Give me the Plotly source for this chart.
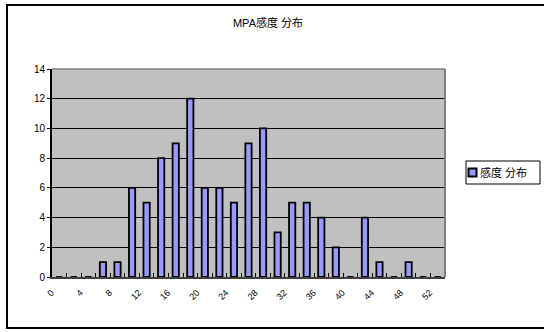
import plotly.graph_objects as go

# Sensitivity bins (step 2) and the count in each bin
categories = [str(v) for v in range(0, 54, 2)]
counts = [0, 0, 0, 1, 1, 6, 5, 8, 9, 12, 6, 6, 5, 9, 10, 3, 5, 5, 4, 2, 0, 4, 1, 0, 1, 0, 0]
tick_labels = [c if i % 2 == 0 else "" for i, c in enumerate(categories)]
series_name = "感度 分布"
chart_title = "MPA感度 分布"

W, H = 544, 332
L, R, T, B = 52, 445, 69, 277  # plot area in pixels
pw, ph = R - L, B - T


def px(x):
    return (x - L) / pw


def py(y):
    return (B - y) / ph


FONT = "Liberation Sans, Arial, Noto Sans CJK JP, sans-serif"
BAR_FILL = "#9999FF"

fig = go.Figure(
    go.Bar(
        x=categories,
        y=counts,
        name=series_name,
        marker=dict(color=BAR_FILL, line=dict(color="black", width=1.8)),
        showlegend=False,
    )
)

fig.update_layout(
    width=W,
    height=H,
    margin=dict(l=L, r=W - R, t=T, b=H - B),
    paper_bgcolor="white",
    plot_bgcolor="#C0C0C0",
    bargap=0.57,
    font=dict(family=FONT, color="black"),
    title=dict(
        text=chart_title,
        x=px(268), xref="paper", xanchor="center",
        y=1 - 23 / H, yref="container", yanchor="middle",
        font=dict(size=11, family=FONT),
    ),
    xaxis=dict(
        type="category",
        tickmode="array",
        tickvals=categories,
        ticktext=tick_labels,
        tickson="boundaries",
        ticks="inside",
        ticklen=4,
        tickwidth=1,
        tickcolor="black",
        tickangle=-45,
        ticklabelshift=-8,
        ticklabelstandoff=5,
        tickfont=dict(size=9, family=FONT),
        showgrid=False,
        showline=True,
        linecolor="#404040",
        linewidth=2,
        range=[-0.5, len(categories) - 0.5],
    ),
    yaxis=dict(
        range=[0, 14],
        dtick=2,
        tick0=0,
        ticks="outside",
        ticklen=3,
        tickcolor="black",
        tickfont=dict(size=10, family=FONT),
        showgrid=True,
        gridcolor="black",
        gridwidth=1,
        zeroline=False,
        showline=True,
        linecolor="black",
        linewidth=2,
    ),
)

shapes = [
    # gray frame of the plot area (top and right)
    dict(type="line", xref="paper", yref="paper", x0=0, x1=1, y0=1, y1=1,
         line=dict(color="#808080", width=1.5)),
    dict(type="line", xref="paper", yref="paper", x0=1, x1=1, y0=0, y1=1,
         line=dict(color="#808080", width=2)),
    # outer chart border
    dict(type="rect", xref="paper", yref="paper",
         x0=px(7), x1=px(560), y0=py(328), y1=py(5),
         line=dict(color="black", width=2), fillcolor="rgba(0,0,0,0)"),
    # legend box
    dict(type="rect", xref="paper", yref="paper",
         x0=px(466), x1=px(540), y0=py(184), y1=py(161),
         line=dict(color="black", width=1), fillcolor="white"),
    # legend swatch
    dict(type="rect", xref="paper", yref="paper",
         x0=px(468.5), x1=px(476.5), y0=py(176.5), y1=py(168.5),
         line=dict(color="black", width=2), fillcolor=BAR_FILL),
]
fig.update_layout(shapes=shapes)

fig.add_annotation(
    text=series_name, xref="paper", yref="paper",
    x=px(478), y=py(172.5), xanchor="left", yanchor="middle",
    showarrow=False, font=dict(size=11, family=FONT),
)

fig.write_html("out.html")
